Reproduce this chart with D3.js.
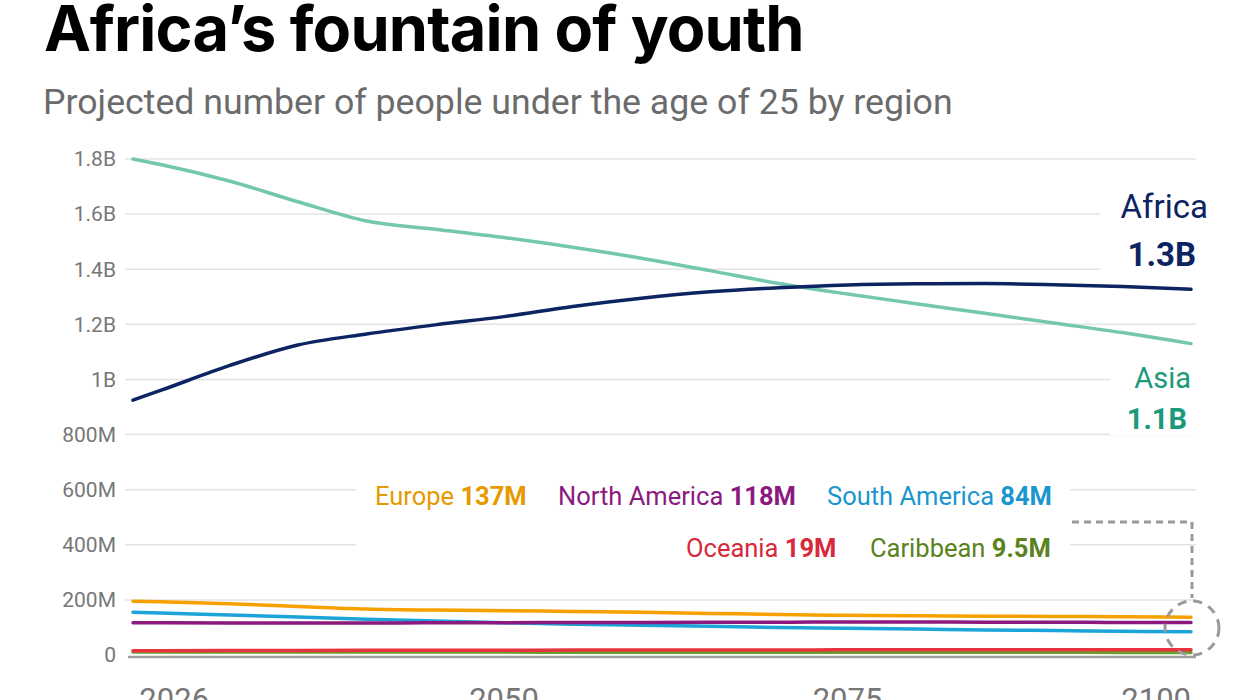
<!DOCTYPE html>
<html>
<head>
<meta charset="utf-8">
<script src="https://cdn.jsdelivr.net/npm/d3@7"></script>
<style>
  body { margin: 0; background: #fff; }
  svg { display: block; font-family: Roboto, "Noto Sans", sans-serif; }
</style>
</head>
<body>
<svg id="chart" width="1245" height="700"></svg>
<script>
// years of the projection
var years = [2023, 2025, 2030, 2035, 2040, 2045, 2050, 2055, 2060, 2065, 2070, 2075, 2080, 2085, 2090, 2095, 2100];

// people under 25, in millions
var africa       = [925, 960, 1050, 1125, 1165, 1198, 1228, 1265, 1295, 1318, 1333, 1343, 1347, 1348, 1344, 1337, 1327];
var asia         = [1800, 1780, 1720, 1645, 1575, 1545, 1515, 1480, 1440, 1395, 1348, 1310, 1275, 1240, 1205, 1170, 1130];
var europe       = [195, 193, 186, 176, 167, 163, 161, 158, 155, 151, 147, 144, 142, 141, 140, 139, 137];
var northAmerica = [117, 117, 116, 116, 116, 117, 117, 118, 118, 119, 119, 120, 120, 119, 119, 118, 118];
var southAmerica = [155, 152, 145, 138, 130, 123, 117, 112, 108, 104, 100, 97, 94, 91, 89, 86, 84];
var oceania      = [15, 15, 16, 16, 17, 17, 17, 18, 18, 18, 18, 19, 19, 19, 19, 19, 19];
var caribbean    = [11, 11, 11, 11, 11, 10.5, 10.5, 10, 10, 10, 10, 10, 9.8, 9.7, 9.6, 9.5, 9.5];

var yTicks = [0, 200, 400, 600, 800, 1000, 1200, 1400, 1600, 1800];
var yTickLabels = ["0", "200M", "400M", "600M", "800M", "1B", "1.2B", "1.4B", "1.6B", "1.8B"];
var xTicks = [2026, 2050, 2075, 2100];

var series = [
  {name: "Caribbean",     values: caribbean,    color: "#6a9e2a"},
  {name: "Oceania",       values: oceania,      color: "#e8333f"},
  {name: "South America", values: southAmerica, color: "#1ba3da"},
  {name: "North America", values: northAmerica, color: "#8c1a7e"},
  {name: "Europe",        values: europe,       color: "#f7a100"},
  {name: "Asia",          values: asia,         color: "#72c7ad"},
  {name: "Africa",        values: africa,       color: "#0c2461"}
];

var svg = d3.select("#chart");

var x = d3.scaleLinear().domain([2023, 2100]).range([133, 1191]);
var y = d3.scaleLinear().domain([0, 1800]).range([655, 159]);

// title + subtitle
svg.append("text")
  .attr("x", 44).attr("y", 51)
  .attr("font-family", "Inter, sans-serif")
  .attr("font-weight", 700)
  .attr("font-size", 63)
  .attr("letter-spacing", -0.8)
  .attr("fill", "#000")
  .text("Africa\u2019s fountain of youth");

svg.append("text")
  .attr("x", 43).attr("y", 114)
  .attr("font-size", 35.7)
  .attr("fill", "#6b6b6b")
  .text("Projected number of people under the age of 25 by region");

// grid
svg.append("g")
  .selectAll("line")
  .data(yTicks.filter(function(d) { return d > 0; }))
  .enter().append("line")
  .attr("x1", 125).attr("x2", 1196)
  .attr("y1", function(d) { return y(d); })
  .attr("y2", function(d) { return y(d); })
  .attr("stroke", "#e3e3e3")
  .attr("stroke-width", 1.5);

// y axis labels
svg.append("g")
  .selectAll("text")
  .data(yTicks)
  .enter().append("text")
  .attr("x", 116)
  .attr("y", function(d) { return y(d); })
  .attr("dy", "0.35em")
  .attr("text-anchor", "end")
  .attr("font-size", 21)
  .attr("fill", "#777")
  .text(function(d, i) { return yTickLabels[i]; });

// x axis labels
svg.append("g")
  .selectAll("text")
  .data(xTicks)
  .enter().append("text")
  .attr("x", function(d) { return x(d); })
  .attr("y", 710)
  .attr("text-anchor", function(d, i) { return i === xTicks.length - 1 ? "end" : "middle"; })
  .attr("font-size", 31)
  .attr("fill", "#777")
  .text(function(d) { return d; });

// white backing behind labels so the grid breaks there
var backs = [[356, 470, 714, 100], [1100, 185, 145, 95], [1110, 355, 135, 80]];
svg.append("g")
  .selectAll("rect")
  .data(backs)
  .enter().append("rect")
  .attr("x", function(d) { return d[0]; })
  .attr("y", function(d) { return d[1]; })
  .attr("width", function(d) { return d[2]; })
  .attr("height", function(d) { return d[3]; })
  .attr("fill", "#fff");

// baseline
svg.append("line")
  .attr("x1", 128).attr("x2", 1196)
  .attr("y1", y(0) + 2).attr("y2", y(0) + 2)
  .attr("stroke", "#a0a0a0")
  .attr("stroke-width", 2.5);

var line = d3.line()
  .x(function(d, i) { return x(years[i]); })
  .y(function(d) { return y(d); })
  .curve(d3.curveMonotoneX);

svg.append("g")
  .selectAll("path")
  .data(series)
  .enter().append("path")
  .attr("d", function(d) { return line(d.values); })
  .attr("fill", "none")
  .attr("stroke", function(d) { return d.color; })
  .attr("stroke-width", 3.5)
  .attr("stroke-linecap", "round");

// big labels
function bigLabel(xr, y1, xv, y2, name, value, color, size) {
  svg.append("text").attr("x", xr).attr("y", y1)
    .attr("text-anchor", "end").attr("font-size", size).attr("fill", color).text(name);
  svg.append("text").attr("x", xv).attr("y", y2)
    .attr("text-anchor", "end").attr("font-size", size).attr("font-weight", 700).attr("fill", color).text(value);
}
bigLabel(1208, 218, 1196, 266, "Africa", "1.3B", "#0c2461", 33);
bigLabel(1191, 388, 1187, 429, "Asia", "1.1B", "#1a9a78", 29);

// small labels
var small = [
  {x: 375, y: 505, name: "Europe", value: "137M", color: "#e69a00"},
  {x: 558, y: 505, name: "North America", value: "118M", color: "#8c1a7e"},
  {x: 827, y: 505, name: "South America", value: "84M", color: "#1a96cf"},
  {x: 686, y: 557, name: "Oceania", value: "19M", color: "#d8283a"},
  {x: 870, y: 557, name: "Caribbean", value: "9.5M", color: "#5a8220"}
];
var sg = svg.append("g").selectAll("text").data(small).enter().append("text")
  .attr("x", function(d) { return d.x; })
  .attr("y", function(d) { return d.y; })
  .attr("font-size", 25.5)
  .attr("fill", function(d) { return d.color; });
sg.append("tspan").text(function(d) { return d.name + " "; });
sg.append("tspan").attr("font-weight", 700).text(function(d) { return d.value; });

// dashed callout
svg.append("path")
  .attr("d", "M1072,522H1192V598")
  .attr("fill", "none")
  .attr("stroke", "#9a9a9a")
  .attr("stroke-width", 3)
  .attr("stroke-dasharray", "7,5");
svg.append("circle")
  .attr("cx", 1192).attr("cy", 628).attr("r", 27)
  .attr("fill", "none")
  .attr("stroke", "#9a9a9a")
  .attr("stroke-width", 3)
  .attr("stroke-dasharray", "9,7");
</script>
</body>
</html>
